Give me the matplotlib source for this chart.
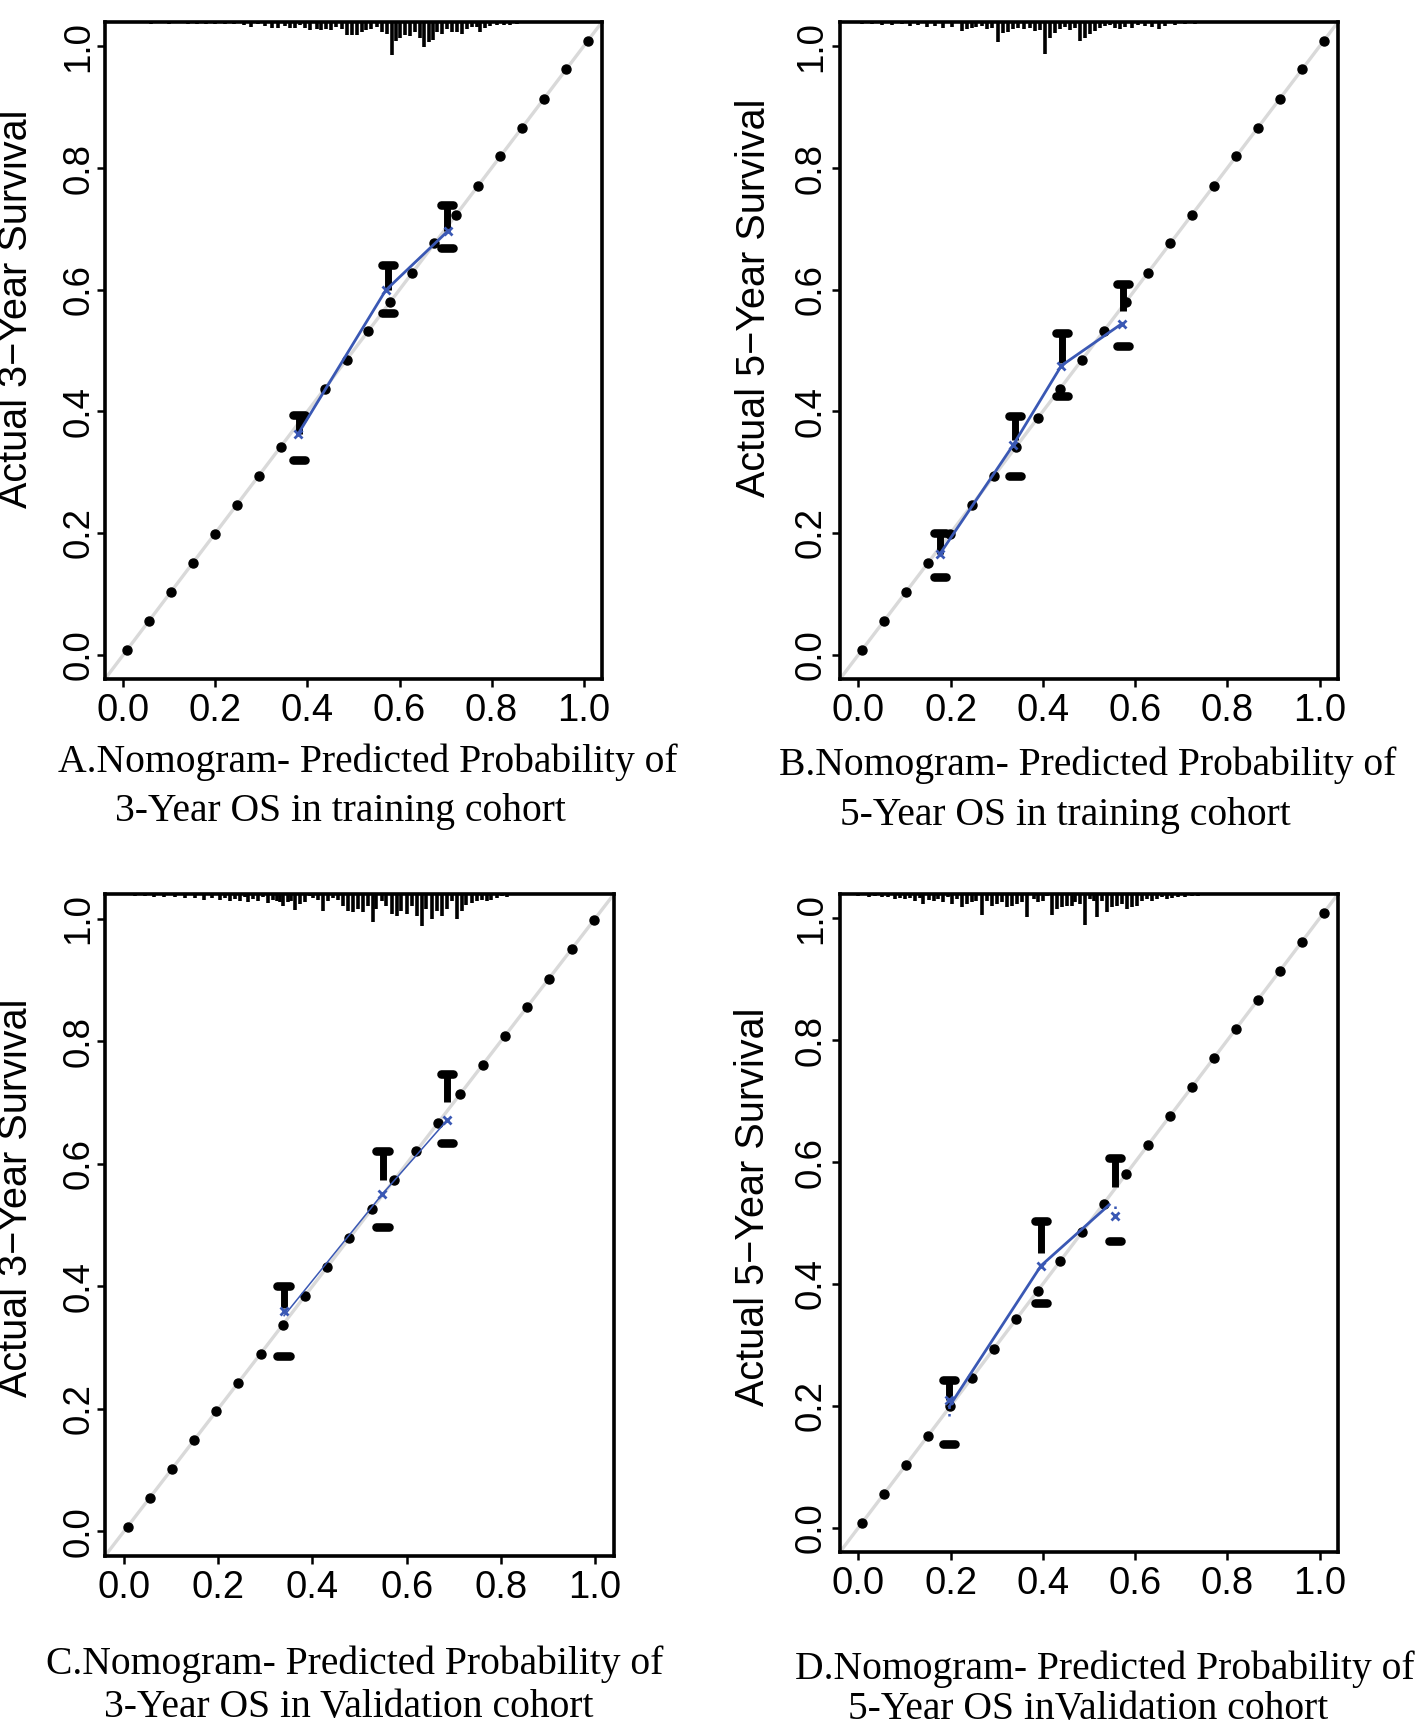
import matplotlib
matplotlib.use("Agg")
import matplotlib.pyplot as plt

# ---------------- data ----------------
ticks = [0.0, 0.2, 0.4, 0.6, 0.8, 1.0]
tick_labels = ["0.0", "0.2", "0.4", "0.6", "0.8", "1.0"]

# reference dots along the ideal line
ideal_dots = [0.008, 0.056, 0.103, 0.151, 0.199, 0.246, 0.294, 0.342, 0.389, 0.437, 0.485,
              0.532, 0.580, 0.628, 0.676, 0.723, 0.771, 0.819, 0.866, 0.914, 0.962, 1.009]
ideal_dots_c = [0.008, 0.055, 0.102, 0.149, 0.196, 0.243, 0.290, 0.337, 0.384, 0.431, 0.478,
                0.526, 0.573, 0.620, 0.667, 0.714, 0.761, 0.808, 0.855, 0.902, 0.950, 0.997]

# Panel A: 3-year, training
A_line_x = [0.379, 0.570, 0.706]
A_line_y = [0.362, 0.599, 0.697]
A_mark_x = [0.379, 0.570, 0.706]
A_mark_y = [0.362, 0.599, 0.697]
A_err_x = [0.381, 0.574, 0.704]
A_err_hi = [0.394, 0.640, 0.740]
A_err_mid = [0.362, 0.600, 0.697]
A_err_lo = [0.320, 0.562, 0.668]
A_rug_x = [0.00, 0.02, 0.04, 0.06, 0.08, 0.10, 0.12, 0.14, 0.16, 0.18, 0.20, 0.22, 0.24,
           0.263, 0.278, 0.292, 0.307, 0.322, 0.336, 0.351, 0.361, 0.372, 0.383, 0.394, 0.405,
           0.420, 0.430, 0.441, 0.452, 0.463, 0.474, 0.485, 0.496, 0.507, 0.518, 0.528, 0.539,
           0.550, 0.561, 0.572, 0.583, 0.592, 0.601, 0.612, 0.623, 0.634, 0.645, 0.653, 0.663,
           0.672, 0.681, 0.692, 0.703, 0.714, 0.724, 0.735, 0.746, 0.757, 0.768, 0.775, 0.786,
           0.797, 0.812, 0.826, 0.841, 0.855]
A_rug_n = [1, 1, 1, 2, 1, 2, 1, 2, 2, 2, 2, 2, 2,
           3, 5, 2, 4, 6, 6, 4, 6, 6, 3, 6, 8,
           7, 8, 7, 8, 5, 7, 13, 13, 13, 10, 8, 7,
           5, 10, 12, 32, 18, 16, 13, 14, 10, 16, 24, 19,
           17, 10, 12, 7, 10, 10, 12, 7, 5, 5, 10, 6,
           4, 3, 3, 3, 2]

# Panel B: 5-year, training
B_line_x = [0.177, 0.335, 0.440, 0.571]
B_line_y = [0.166, 0.344, 0.475, 0.544]
B_mark_x = [0.177, 0.335, 0.440, 0.571]
B_mark_y = [0.166, 0.344, 0.475, 0.544]
B_err_x = [0.176, 0.339, 0.442, 0.573]
B_err_hi = [0.200, 0.392, 0.529, 0.609]
B_err_mid = [0.166, 0.353, 0.479, 0.565]
B_err_lo = [0.128, 0.294, 0.425, 0.508]
B_rug_x = [0.007, 0.029, 0.050, 0.072, 0.094, 0.112, 0.130, 0.148, 0.166, 0.184, 0.202,
           0.224, 0.235, 0.246, 0.256, 0.267, 0.278, 0.289, 0.303, 0.314, 0.325, 0.336,
           0.347, 0.358, 0.372, 0.383, 0.394, 0.405, 0.416, 0.427, 0.437, 0.448, 0.459,
           0.470, 0.481, 0.492, 0.503, 0.513, 0.524, 0.535, 0.546, 0.557, 0.568, 0.578,
           0.593, 0.607, 0.622, 0.636, 0.651, 0.665, 0.687, 0.709, 0.730]
B_rug_n = [2, 2, 3, 3, 2, 4, 3, 5, 4, 6, 5,
           9, 7, 6, 5, 4, 7, 6, 19, 11, 10, 7,
           6, 7, 6, 9, 8, 31, 16, 11, 7, 5, 8,
           6, 18, 16, 12, 9, 6, 4, 3, 6, 7, 5,
           6, 3, 4, 5, 7, 4, 3, 2, 2]

# Panel C: 3-year, validation
C_line_x = [0.340, 0.548, 0.686]
C_line_y = [0.352, 0.550, 0.671]
C_mark_x = [0.340, 0.548, 0.686]
C_mark_y = [0.359, 0.550, 0.671]
C_err_x = [0.339, 0.549, 0.686]
C_err_hi = [0.401, 0.621, 0.747]
C_err_mid = [0.365, 0.573, 0.700]
C_err_lo = [0.286, 0.496, 0.633]
C_rug_x = [0.001, 0.023, 0.044, 0.065, 0.086, 0.108, 0.129, 0.150, 0.171, 0.186, 0.203,
           0.214, 0.225, 0.235, 0.246, 0.256, 0.263, 0.274, 0.285, 0.295, 0.306, 0.317,
           0.324, 0.331, 0.338, 0.348, 0.355, 0.363, 0.373, 0.384, 0.395, 0.402, 0.412,
           0.423, 0.434, 0.444, 0.455, 0.465, 0.476, 0.487, 0.497, 0.508, 0.519, 0.529,
           0.536, 0.547, 0.557, 0.568, 0.579, 0.589, 0.600, 0.611, 0.621, 0.632, 0.642,
           0.653, 0.664, 0.674, 0.685, 0.696, 0.706, 0.717, 0.727, 0.738, 0.749, 0.759,
           0.770, 0.780, 0.791, 0.802, 0.812]
C_rug_n = [1, 2, 2, 3, 3, 3, 4, 4, 6, 4, 6,
           4, 7, 5, 7, 3, 8, 5, 7, 3, 9, 6,
           7, 8, 12, 8, 7, 15, 10, 8, 2, 4, 6,
           16, 7, 4, 6, 12, 16, 17, 14, 17, 12, 27,
           14, 7, 12, 19, 21, 16, 19, 12, 21, 31, 14,
           24, 16, 21, 14, 7, 24, 16, 11, 9, 7, 6,
           7, 6, 4, 2, 3]

# Panel D: 5-year, validation
D_line_x = [0.197, 0.396, 0.544]
D_line_y = [0.199, 0.430, 0.530]
D_mark_x = [0.197, 0.396, 0.557]
D_mark_y = [0.209, 0.430, 0.512]
D_dot_x = [0.197, 0.557]
D_dot_lo = [0.183, 0.512]
D_dot_hi = [0.209, 0.534]
D_err_x = [0.197, 0.396, 0.557]
D_err_hi = [0.242, 0.503, 0.607]
D_err_mid = [0.209, 0.450, 0.559]
D_err_lo = [0.138, 0.368, 0.470]
D_rug_x = [0.000, 0.022, 0.036, 0.050, 0.065, 0.079, 0.090, 0.101, 0.112, 0.123, 0.134,
           0.141, 0.152, 0.163, 0.173, 0.184, 0.195, 0.202, 0.213, 0.224, 0.235, 0.246,
           0.256, 0.267, 0.278, 0.289, 0.300, 0.311, 0.322, 0.332, 0.343, 0.354, 0.365,
           0.380, 0.390, 0.401, 0.409, 0.419, 0.430, 0.441, 0.452, 0.463, 0.470, 0.481,
           0.492, 0.503, 0.510, 0.517, 0.528, 0.539, 0.550, 0.560, 0.571, 0.582, 0.593,
           0.604, 0.615, 0.625, 0.636, 0.647, 0.658, 0.669, 0.680, 0.694, 0.709, 0.723,
           0.737]
D_rug_n = [2, 3, 2, 3, 3, 5, 4, 5, 4, 7, 4,
           10, 6, 7, 5, 8, 3, 10, 5, 13, 10, 8,
           7, 20, 7, 12, 10, 8, 13, 12, 10, 8, 22,
           5, 8, 7, 2, 20, 15, 13, 12, 12, 8, 10,
           30, 5, 7, 22, 7, 17, 13, 12, 10, 15, 13,
           12, 7, 5, 7, 5, 3, 5, 4, 3, 3, 2,
           2]

captions = {
    "A": ["A.Nomogram- Predicted Probability of", "3-Year OS in training cohort"],
    "B": ["B.Nomogram- Predicted Probability of", "5-Year OS in training cohort"],
    "C": ["C.Nomogram- Predicted Probability of", "3-Year OS in Validation cohort"],
    "D": ["D.Nomogram- Predicted Probability of", "5-Year OS inValidation cohort"],
}
ylabels = {"A": "Actual 3\u2212Year Survival", "B": "Actual 5\u2212Year Survival",
           "C": "Actual 3\u2212Year Survival", "D": "Actual 5\u2212Year Survival"}

# ---------------- style ----------------
W, H = 1418, 1729
DPI = 100
BLUE = "#3a58b4"
GRAY = "#d9d9d9"
SANS = ["Liberation Sans", "DejaVu Sans"]
SERIF = ["Liberation Serif", "DejaVu Serif"]
LIM = (-0.04, 1.04)
RUG_SCALE = 1.0 / 590.0

fig = plt.figure(figsize=(W / DPI, H / DPI), dpi=DPI)
fig.patch.set_facecolor("white")


def px_axes(left, top, right, bottom):
    return fig.add_axes([left / W, 1 - bottom / H, (right - left) / W, (bottom - top) / H])


def panel(key, box, dots, lx, ly, mx, my, ex, ehi, emid, elo, rx, rn, lw_blue,
          ylab_pos, cap_pos, cap_ha, ypad):
    ax = px_axes(*box)
    ax.set_xlim(*LIM)
    ax.set_ylim(*LIM)
    # ideal line
    ax.plot(LIM, LIM, color=GRAY, lw=2.4, zorder=1, solid_capstyle="butt")
    # dots along the ideal line
    ax.plot(dots, dots, "o", color="black", ms=6.5, mec="black", zorder=3)
    # error bars
    ax.vlines(ex, emid, ehi, color="black", lw=5.0, zorder=4)
    ax.hlines(ehi, [x - 0.013 for x in ex], [x + 0.013 for x in ex], color="black",
              lw=6.2, zorder=4, capstyle="round")
    ax.hlines(elo, [x - 0.013 for x in ex], [x + 0.013 for x in ex], color="black",
              lw=6.2, zorder=4, capstyle="round")
    # calibration line
    ax.plot(lx, ly, color=BLUE, lw=lw_blue, zorder=5)
    ax.plot(mx, my, "x", color=BLUE, ms=5.5, mew=2.0, zorder=6)
    # rug at top
    ax.vlines(rx, [LIM[1] - n * RUG_SCALE for n in rn], LIM[1], color="black", lw=2.6,
              zorder=2)
    # axes styling
    for s in ax.spines.values():
        s.set_linewidth(2.6)
    ax.set_xticks(ticks)
    ax.set_xticklabels(tick_labels, fontsize=27.5, family=SANS)
    ax.set_yticks(ticks)
    ax.set_yticklabels(tick_labels, fontsize=26.5, family=SANS, rotation=90, va="center")
    ax.tick_params(axis="both", direction="out", length=6, width=1.8)
    ax.tick_params(axis="x", pad=4)
    ax.tick_params(axis="y", pad=ypad)
    fig.text(ylab_pos[0] / W, 1 - ylab_pos[1] / H, ylabels[key], rotation=90,
             ha="center", va="center", fontsize=28.5, family=SANS)
    (c1x, c1y), (c2x, c2y) = cap_pos
    fig.text(c1x / W, 1 - c1y / H, captions[key][0], ha=cap_ha[0], va="center",
             fontsize=28.5, family=SERIF)
    fig.text(c2x / W, 1 - c2y / H, captions[key][1], ha=cap_ha[1], va="center",
             fontsize=28.5, family=SERIF)
    return ax


panel("A", (105, 22, 602, 679), ideal_dots, A_line_x, A_line_y, A_mark_x, A_mark_y,
      A_err_x, A_err_hi, A_err_mid, A_err_lo, A_rug_x, A_rug_n, 2.0,
      (16, 309), ((368, 762), (340, 812)), ("center", "center"), 0)
panel("B", (840, 22, 1338, 679), ideal_dots, B_line_x, B_line_y, B_mark_x, B_mark_y,
      B_err_x, B_err_hi, B_err_mid, B_err_lo, B_rug_x, B_rug_n, 2.0,
      (754, 298), ((1088, 765), (1065, 815)), ("center", "center"), 2)
axC = panel("C", (105, 894, 614, 1556), ideal_dots_c, C_line_x, C_line_y, C_mark_x, C_mark_y,
            C_err_x, C_err_hi, C_err_mid, C_err_lo, C_rug_x, C_rug_n, 1.1,
            (16, 1198), ((355, 1664), (349, 1707)), ("center", "center"), 0)
axD = panel("D", (840, 894, 1338, 1552), ideal_dots, D_line_x, D_line_y, D_mark_x, D_mark_y,
            D_err_x, D_err_hi, D_err_mid, D_err_lo, D_rug_x, D_rug_n, 2.0,
            (753, 1207), ((795, 1669), (1088, 1710)), ("left", "center"), 2)
axD.vlines(D_dot_x, D_dot_lo, D_dot_hi, color=BLUE, lw=1.8, linestyles=(0, (1, 2)), zorder=5)

fig.savefig("out.png", dpi=DPI, facecolor="white")
